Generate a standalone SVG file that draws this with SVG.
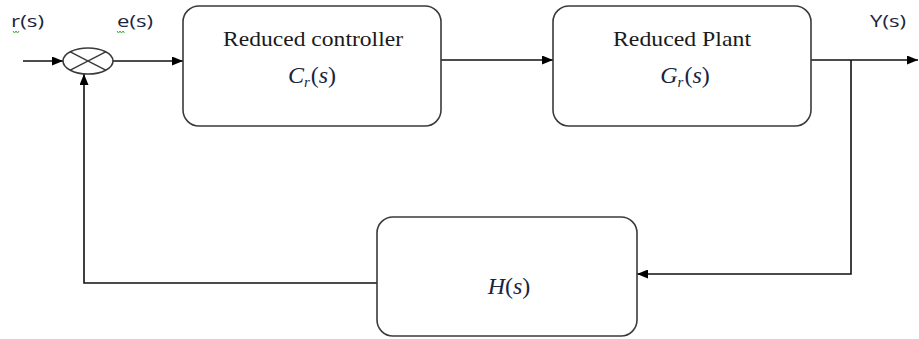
<svg xmlns="http://www.w3.org/2000/svg" width="919" height="339" viewBox="0 0 919 339">
<defs>
<marker id="arr" markerWidth="11" markerHeight="9" refX="11" refY="4.5" orient="auto" markerUnits="userSpaceOnUse">
<path d="M0,0 L11,4.5 L0,9 Z" fill="#000"/>
</marker>
<style>
.box{fill:#fff;stroke:#3a3a3a;stroke-width:1.6}
.wire{fill:none;stroke:#111;stroke-width:1.6}
.t{font-family:"Liberation Serif","Times New Roman",serif;font-size:21px;fill:#1a1a1a;text-anchor:middle}
.m{font-family:"Liberation Serif","Times New Roman",serif;font-style:italic;font-size:24px;fill:#1b2540;text-anchor:middle}
.up{font-style:normal}
.sub{font-size:15px}
.lbl{font-family:"Open Sans","Liberation Sans",sans-serif;font-size:16px;fill:#1b2540}
.sq{fill:none;stroke:#3aa83a;stroke-width:1}
</style>
</defs>
<g id="connectors">
<line class="wire" x1="23" y1="61" x2="63" y2="61" marker-end="url(#arr)"/>
<line class="wire" x1="113" y1="61" x2="183" y2="61" marker-end="url(#arr)"/>
<line class="wire" x1="441" y1="60" x2="553" y2="60" marker-end="url(#arr)"/>
<line class="wire" x1="811" y1="60" x2="918" y2="60" marker-end="url(#arr)"/>
<polyline class="wire" points="851,60 851,274 637,274" marker-end="url(#arr)"/>
<polyline class="wire" points="377,283 84,283 84,74" marker-end="url(#arr)"/>
</g>
<g id="sum">
<ellipse cx="88" cy="61" rx="25" ry="13" fill="#fff" stroke="#3a3a3a" stroke-width="1.6"/>
<line x1="70.3" y1="51.8" x2="105.7" y2="70.2" stroke="#3a3a3a" stroke-width="1.4"/>
<line x1="70.3" y1="70.2" x2="105.7" y2="51.8" stroke="#3a3a3a" stroke-width="1.4"/>
</g>
<g id="labels">
<text class="lbl" x="11" y="27" textLength="33" lengthAdjust="spacingAndGlyphs">r(s)</text>
<path class="sq" d="M13,31 l1.5,2 l1.5,-2 l1.5,2 l1.5,-2"/>
<text class="lbl" x="117" y="27" textLength="36" lengthAdjust="spacingAndGlyphs">e(s)</text>
<path class="sq" d="M117,31 l1.5,2 l1.5,-2 l1.5,2 l1.5,-2 l1.5,2"/>
<text class="lbl" x="870" y="27" textLength="36" lengthAdjust="spacingAndGlyphs">Y(s)</text>
</g>
<g id="controller">
<rect class="box" x="183" y="6" width="258" height="120" rx="16"/>
<text class="t" x="313" y="46" textLength="180" lengthAdjust="spacingAndGlyphs">Reduced controller</text>
<text class="m" x="312" y="83">C<tspan class="sub" dy="4">r</tspan><tspan class="up" dy="-4" dx="1">(</tspan>s<tspan class="up">)</tspan></text>
</g>
<g id="plant">
<rect class="box" x="553" y="6" width="258" height="120" rx="16"/>
<text class="t" x="682" y="46" textLength="138" lengthAdjust="spacingAndGlyphs">Reduced Plant</text>
<text class="m" x="685" y="83">G<tspan class="sub" dy="4">r</tspan><tspan class="up" dy="-4" dx="1">(</tspan>s<tspan class="up">)</tspan></text>
</g>
<g id="feedback">
<rect class="box" x="377" y="217" width="260" height="119" rx="16"/>
<text class="m" x="509" y="294">H<tspan class="up">(</tspan>s<tspan class="up">)</tspan></text>
</g>
</svg>
